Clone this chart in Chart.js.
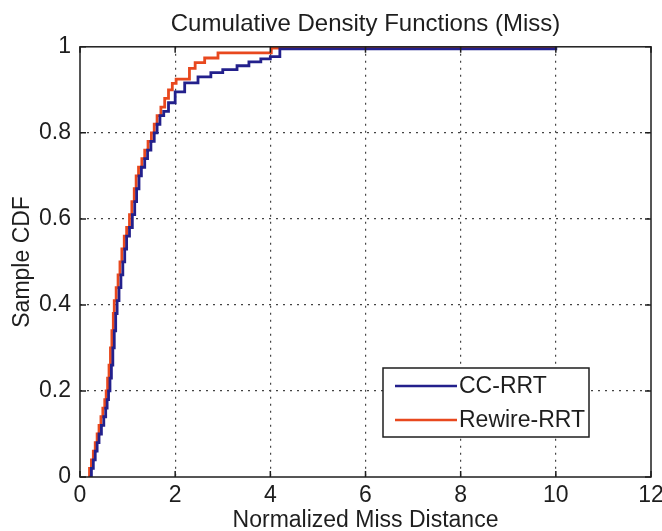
<!DOCTYPE html>
<html>
<head>
<meta charset="utf-8">
<style>
  html, body { margin: 0; padding: 0; background: #ffffff; }
  #wrap { width: 662px; height: 531px; }
</style>
<script src="https://cdn.jsdelivr.net/npm/chart.js@4/dist/chart.umd.min.js"></script>
</head>
<body>
<div id="wrap"><canvas id="cdf" width="662" height="531"></canvas></div>
<script>
// Empirical CDF of normalized miss distance, one step per sample
const ccX = [0.20, 0.24, 0.28, 0.32, 0.36, 0.40, 0.45, 0.50, 0.54, 0.57,
             0.60, 0.63, 0.66, 0.69, 0.72, 0.75, 0.78, 0.82, 0.86, 0.90,
             0.94, 0.98, 1.04, 1.10, 1.15, 1.19, 1.24, 1.29, 1.36, 1.42,
             1.49, 1.56, 1.62, 1.68, 1.76, 1.86, 2.00, 2.20, 2.48, 2.75,
             3.00, 3.30, 3.55, 3.80, 4.00, 4.20, 10.0];
const ccF = [0.00, 0.02, 0.04, 0.06, 0.08, 0.10, 0.12, 0.14, 0.16, 0.18,
             0.20, 0.23, 0.26, 0.30, 0.34, 0.38, 0.41, 0.44, 0.47, 0.50,
             0.53, 0.56, 0.58, 0.61, 0.64, 0.67, 0.70, 0.72, 0.74, 0.76,
             0.78, 0.80, 0.82, 0.84, 0.85, 0.87, 0.895, 0.916, 0.93, 0.94,
             0.947, 0.956, 0.965, 0.972, 0.977, 0.995, 1.00];

const rwX = [0.17, 0.20, 0.24, 0.28, 0.32, 0.36, 0.40, 0.44, 0.48, 0.52,
             0.55, 0.58, 0.61, 0.64, 0.67, 0.70, 0.72, 0.76, 0.80, 0.84,
             0.88, 0.93, 0.98, 1.04, 1.09, 1.14, 1.18, 1.23, 1.30, 1.36,
             1.43, 1.50, 1.56, 1.62, 1.70, 1.78, 1.86, 1.94, 2.02, 2.30,
             2.42, 2.62, 2.90, 4.02, 9.95];
const rwF = [0.00, 0.02, 0.04, 0.06, 0.08, 0.10, 0.12, 0.14, 0.16, 0.18,
             0.20, 0.23, 0.26, 0.30, 0.34, 0.38, 0.41, 0.44, 0.47, 0.50,
             0.53, 0.56, 0.58, 0.61, 0.64, 0.67, 0.70, 0.72, 0.74, 0.76,
             0.78, 0.80, 0.82, 0.84, 0.86, 0.88, 0.90, 0.915, 0.925, 0.95,
             0.963, 0.974, 0.986, 0.997, 1.00];

const seriesNames = ['CC-RRT', 'Rewire-RRT'];
const xTicks = [0, 2, 4, 6, 8, 10, 12];
const xTickLabels = ['0', '2', '4', '6', '8', '10', '12'];
const yTicks = [0, 0.2, 0.4, 0.6, 0.8, 1];
const yTickLabels = ['0', '0.2', '0.4', '0.6', '0.8', '1'];

const toPoints = (xs, ys) => xs.map((x, i) => ({ x: x, y: ys[i] }));

const FONT = '"Liberation Sans", Arial, sans-serif';
const INK = '#1e1e1e';

// Box around the axes, inward tick marks and the boxed legend
const framePlugin = {
  id: 'frame',
  afterDraw(chart) {
    const { ctx, chartArea: a, scales: { x, y } } = chart;
    ctx.save();
    ctx.strokeStyle = INK;
    ctx.lineWidth = 1.5;
    ctx.strokeRect(a.left, a.top, a.right - a.left, a.bottom - a.top);

    const tl = 6;
    ctx.beginPath();
    xTicks.forEach(v => {
      const px = x.getPixelForValue(v);
      ctx.moveTo(px, a.bottom); ctx.lineTo(px, a.bottom - tl);
      ctx.moveTo(px, a.top);    ctx.lineTo(px, a.top + tl);
    });
    yTicks.forEach(v => {
      const py = y.getPixelForValue(v);
      ctx.moveTo(a.left, py);  ctx.lineTo(a.left + tl, py);
      ctx.moveTo(a.right, py); ctx.lineTo(a.right - tl, py);
    });
    ctx.stroke();

    // legend in the lower right of the axes
    const lx = 383, ly = 368, lw = 206, lh = 69;
    ctx.fillStyle = '#ffffff';
    ctx.fillRect(lx, ly, lw, lh);
    ctx.lineWidth = 1.5;
    ctx.strokeStyle = INK;
    ctx.strokeRect(lx, ly, lw, lh);
    ctx.font = '23px ' + FONT;
    ctx.textBaseline = 'middle';
    ctx.textAlign = 'left';
    chart.data.datasets.forEach((ds, i) => {
      const cy = ly + 18 + i * 34;
      ctx.strokeStyle = ds.borderColor;
      ctx.lineWidth = 2.5;
      ctx.beginPath();
      ctx.moveTo(lx + 12, cy);
      ctx.lineTo(lx + 74, cy);
      ctx.stroke();
      ctx.fillStyle = INK;
      ctx.fillText(ds.label, lx + 76, cy + 1);
    });
    ctx.restore();
  }
};

new Chart(document.getElementById('cdf'), {
  type: 'line',
  data: {
    datasets: [
      {
        label: seriesNames[0],
        data: toPoints(ccX, ccF),
        borderColor: '#23208c',
        borderWidth: 2.8,
        stepped: true,
        pointRadius: 0,
        fill: false
      },
      {
        label: seriesNames[1],
        data: toPoints(rwX, rwF),
        borderColor: '#e8481e',
        borderWidth: 2.8,
        stepped: true,
        pointRadius: 0,
        fill: false
      }
    ]
  },
  options: {
    responsive: false,
    animation: false,
    devicePixelRatio: 1,
    layout: { padding: 0 },
    plugins: {
      legend: { display: false },
      tooltip: { enabled: false },
      title: {
        display: true,
        fullSize: false,
        text: 'Cumulative Density Functions (Miss)',
        color: INK,
        font: { family: FONT, size: 24, weight: 'normal', lineHeight: 1.2 },
        padding: { top: 10, bottom: 8 }
      }
    },
    scales: {
      x: {
        type: 'linear',
        min: 0, max: 12,
        afterBuildTicks: s => { s.ticks = xTicks.map(v => ({ value: v })); },
        afterFit: s => { s.height = 54; s.paddingLeft = 0; s.paddingRight = 11; },
        ticks: {
          color: INK, font: { family: FONT, size: 23 }, padding: 5, maxRotation: 0,
          callback: (v) => xTickLabels[xTicks.indexOf(v)]
        },
        grid: {
          color: c => (c.tick && (c.tick.value === 0 || c.tick.value === 12)) ? 'rgba(0,0,0,0)' : '#444',
          lineWidth: 1.2,
          drawTicks: false
        },
        border: { display: false, dash: [2, 5] },
        title: {
          display: true,
          text: 'Normalized Miss Distance',
          color: INK,
          font: { family: FONT, size: 23, lineHeight: 0.9 },
          padding: { top: 0, bottom: 0 }
        }
      },
      y: {
        type: 'linear',
        min: 0, max: 1,
        afterBuildTicks: s => { s.ticks = yTicks.map(v => ({ value: v })); },
        afterFit: s => { s.width = 80; },
        ticks: {
          color: INK, font: { family: FONT, size: 23 }, padding: 9,
          callback: (v) => yTickLabels[yTicks.indexOf(v)]
        },
        grid: {
          color: c => (c.tick && (c.tick.value === 0 || c.tick.value === 1)) ? 'rgba(0,0,0,0)' : '#444',
          lineWidth: 1.2,
          drawTicks: false
        },
        border: { display: false, dash: [2, 5] },
        title: {
          display: true,
          text: 'Sample CDF',
          color: INK,
          font: { family: FONT, size: 23, lineHeight: 1.2 },
          padding: { top: 9, bottom: 0 }
        }
      }
    }
  },
  plugins: [framePlugin]
});
</script>
</body>
</html>
